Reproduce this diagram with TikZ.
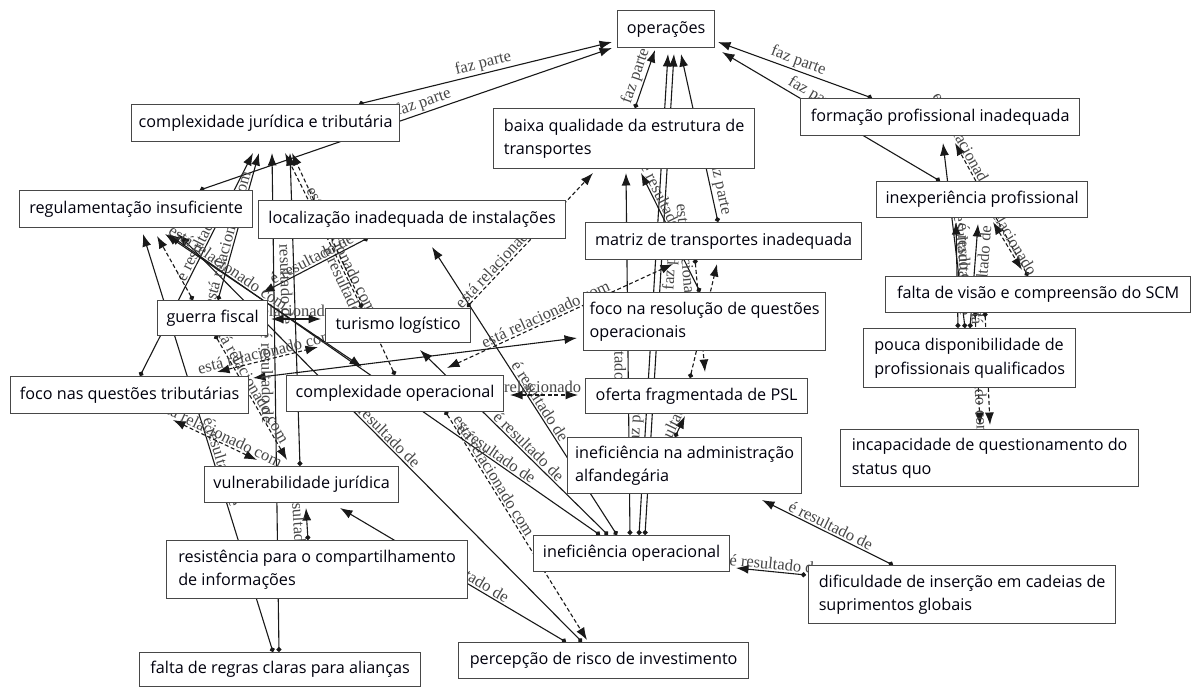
\documentclass[tikz,border=0pt]{standalone}
\usepackage{fontspec}
\newfontfamily\boxfont{Open Sans}
\newfontfamily\edgefont{Liberation Serif}
\usetikzlibrary{arrows.meta}
\pgfdeclarelayer{background}
\pgfsetlayers{background,main}

\begin{document}
\begin{tikzpicture}[x=1pt,y=-1pt,
  box/.style={draw=black!72, line width=1.3pt, fill=white, anchor=north west,
    inner xsep=6pt, inner ysep=0pt, align=left, text=black!95!blue,
    font=\boxfont\fontsize{16.2}{23.5}\selectfont},
  con/.style={line width=1.1pt, draw=black!90},
  res/.style={con, {Circle[length=5pt]}-{Latex[length=12.5pt,width=9pt]}},
  resd/.style={res, dash pattern=on 4pt off 2.5pt},
  mutual/.style={con, {Latex[length=12.5pt,width=9pt]}-{Latex[length=12.5pt,width=9pt]}},
  mutuald/.style={mutual, dash pattern=on 4pt off 2.5pt},
  lbl/.style={font=\edgefont\fontsize{16.5}{16.5}\selectfont, text=black!72, sloped, inner sep=1.5pt}
]
\useasboundingbox (0,0) rectangle (1192,686);

% concept boxes
\node[box, minimum width=97pt,  minimum height=37pt] (ops)      at (617,10)  {operações};
\node[box, minimum width=268pt, minimum height=37pt] (cjt)      at (131,104) {complexidade jurídica e tributária};
\node[box, minimum width=261pt, minimum height=60pt] (baixa)    at (493,108) {baixa qualidade da estrutura de\\transportes};
\node[box, minimum width=279pt, minimum height=37pt] (form)     at (800,98)  {formação profissional inadequada};
\node[box, minimum width=233pt, minimum height=37pt] (reg)      at (19,190)  {regulamentação insuficiente};
\node[box, minimum width=307pt, minimum height=38pt] (loc)      at (258,200) {localização inadequada de instalações};
\node[box, minimum width=276pt, minimum height=37pt] (matriz)   at (585,222) {matriz de transportes inadequada};
\node[box, minimum width=211pt, minimum height=36pt] (inexp)    at (876,181) {inexperiência profissional};
\node[box, minimum width=305pt, minimum height=36pt] (visao)    at (885,276) {falta de visão e compreensão do SCM};
\node[box, minimum width=223pt, minimum height=58pt] (focores)  at (583,292) {foco na resolução de questões\\operacionais};
\node[box, minimum width=110pt, minimum height=35pt] (guerra)   at (157,300) {guerra fiscal};
\node[box, minimum width=145pt, minimum height=34pt] (turismo)  at (325,308) {turismo logístico};
\node[box, minimum width=212pt, minimum height=59pt] (pouca)    at (863,328) {pouca disponibilidade de\\profissionais qualificados};
\node[box, minimum width=238pt, minimum height=37pt] (focotrib) at (10,376)  {foco nas questões tributárias};
\node[box, minimum width=217pt, minimum height=36pt] (compop)   at (286,375) {complexidade operacional};
\node[box, minimum width=222pt, minimum height=35pt] (oferta)   at (585,378) {oferta fragmentada de PSL};
\node[box, minimum width=298pt, minimum height=57pt] (incap)    at (840,429) {incapacidade de questionamento do\\status quo};
\node[box, minimum width=234pt, minimum height=56pt] (admin)    at (567,437) {ineficiência na administração\\alfandegária};
\node[box, minimum width=194pt, minimum height=36pt] (vuln)     at (204,466) {vulnerabilidade jurídica};
\node[box, minimum width=301pt, minimum height=58pt] (resist)   at (166,540) {resistência para o compartilhamento\\de informações};
\node[box, minimum width=196pt, minimum height=36pt] (io)       at (533,535) {ineficiência operacional};
\node[box, minimum width=307pt, minimum height=58pt] (dific)    at (808,565) {dificuldade de inserção em cadeias de\\suprimentos globais};
\node[box, minimum width=281pt, minimum height=34pt] (falta)    at (139,652) {falta de regras claras para alianças};
\node[box, minimum width=290pt, minimum height=36pt] (percep)   at (458,642) {percepção de risco de investimento};

\begin{pgfonlayer}{background}
\fill[white] (0,0) rectangle (1192,686);

% links into "operações"
\draw[res] ([shift={(228,0)}]cjt.north west) -- node[lbl,above]{faz parte} ([shift={(-5,32)}]ops.north west);
\draw[res] ([shift={(181,0)}]reg.north west) -- node[lbl,above,pos=.55]{faz parte} ([shift={(-5,38)}]ops.north west);
\draw[res] ([shift={(142,0)}]baixa.north west) -- node[lbl,above]{faz parte} ([shift={(38,40)}]ops.north west);
\draw[res] ([shift={(72,0)}]form.north west) -- node[lbl,above]{faz parte} ([shift={(101,32)}]ops.north west);
\draw[res] ([shift={(64,0)}]inexp.north west) -- node[lbl,above,pos=.6]{faz parte} ([shift={(105,42)}]ops.north west);
\draw[res] ([shift={(133,0)}]matriz.north west) -- node[lbl,above,pos=.2]{faz parte} ([shift={(64,44)}]ops.north west);
\draw[res] ([shift={(106,0)}]io.north west) -- node[lbl,above,pos=.24]{faz parte} ([shift={(51,44)}]ops.north west);
\draw[res] ([shift={(112,0)}]io.north west) -- node[lbl,below,pos=.57]{faz parte} ([shift={(57,44)}]ops.north west);

% central column
\draw[res] ([shift={(97,0)}]io.north west) -- node[lbl,below,pos=.5]{é resultado de} ([shift={(133,65)}]baixa.north west);
\draw[res] ([shift={(117,0)}]focores.north west) -- node[lbl,above,pos=.7]{é resultado de} ([shift={(148,65)}]baixa.north west);
\draw[res] ([shift={(84,0)}]io.north west) -- node[lbl,above,pos=.45]{é resultado de} ([shift={(174,47)}]loc.north west);
\draw[res] ([shift={(75,0)}]io.north west) -- node[lbl,above,pos=.45]{é resultado de} ([shift={(95,42)}]turismo.north west);
\draw[res] ([shift={(67,0)}]io.north west) -- node[lbl,above,pos=.25]{é resultado de} ([shift={(149,44)}]reg.north west);
\draw[res] ([shift={(124,0)}]percep.north west) -- node[lbl,above,pos=.5]{é resultado de} ([shift={(159,44)}]reg.north west);
\draw[res] ([shift={(108,0)}]percep.north west) -- node[lbl,above,pos=.45]{é resultado de} ([shift={(136,42)}]vuln.north west);
\draw[resd] ([shift={(159,36)}]compop.north west) -- node[lbl,above,pos=.3]{está relacionado com} ([shift={(129,-2)}]percep.north west);
\draw[mutuald] ([shift={(224,20)}]compop.north west) -- node[lbl,above]{está relacionado com} ([shift={(-7,17)}]oferta.north west);
\draw[mutuald] ([shift={(161,-7)}]compop.north west) -- node[lbl,above,pos=.45]{está relacionado com} ([shift={(88,42)}]matriz.north west);
\draw[mutual] ([shift={(243,2)}]focotrib.north west) -- ([shift={(-6,46)}]focores.north west);
\draw[resd] ([shift={(142,-1)}]turismo.north west) -- node[lbl,above,pos=.35]{está relacionado com} ([shift={(100,65)}]baixa.north west);
\draw[resd] ([shift={(110,37)}]matriz.north west) -- node[lbl,below,pos=.12]{está relacionado com} ([shift={(120,-6)}]oferta.north west);
\draw[resd] ([shift={(105,0)}]oferta.north west) -- ([shift={(132,42)}]matriz.north west);
\draw[res] ([shift={(108,0)}]admin.north west) -- node[lbl,above]{é resultado de} ([shift={(100,38)}]oferta.north west);

% left cluster
\draw[res] ([shift={(110,38)}]loc.north west) -- node[lbl,above]{é resultado de} ([shift={(105,-7)}]guerra.north west);
\draw[res] ([shift={(130,0)}]focotrib.north west) -- node[lbl,above,pos=.6]{é resultado de} ([shift={(122,49)}]cjt.north west);
\draw[res] ([shift={(61,0)}]guerra.north west) -- node[lbl,above,pos=.4]{está relacionado com} ([shift={(128,49)}]cjt.north west);
\draw[res] ([shift={(134,0)}]falta.north west) -- node[lbl,above,pos=.45]{é resultado de} ([shift={(124,44)}]reg.north west);
\draw[res] ([shift={(140,0)}]falta.north west) -- node[lbl,below,pos=.55]{é resultado de} ([shift={(141,49)}]cjt.north west);
\draw[res] ([shift={(96,0)}]vuln.north west) -- node[lbl,below,pos=.6]{é resultado de} ([shift={(159,49)}]cjt.north west);
\draw[res] ([shift={(142,0)}]resist.north west) -- node[lbl,below]{é resultado de} ([shift={(102,42)}]vuln.north west);
\draw[mutuald] ([shift={(163,44)}]focotrib.north west) -- node[lbl,above]{está relacionado com} ([shift={(53,-6)}]vuln.north west);
\draw[resd] ([shift={(58,35)}]guerra.north west) -- node[lbl,above,pos=.4]{está relacionado com} ([shift={(83,-6)}]vuln.north west);
\draw[mutuald] ([shift={(207,-4)}]focotrib.north west) -- node[lbl,above]{está relacionado com} ([shift={(-7,39)}]turismo.north west);
\draw[mutual] ([shift={(114,19)}]guerra.north west) -- node[lbl,above]{está relacionado com} ([shift={(-4,11)}]turismo.north west);
\draw[mutual] ([shift={(76,-8)}]compop.north west) -- node[lbl,above,pos=.7]{está relacionado com} ([shift={(146,44)}]reg.north west);
\draw[resd] ([shift={(37,0)}]turismo.north west) -- node[lbl,above,pos=.35]{está relacionado com} ([shift={(154,49)}]cjt.north west);
\draw[resd] ([shift={(109,0)}]compop.north west) -- node[lbl,below,pos=.4]{é resultado de} ([shift={(161,49)}]cjt.north west);
\draw[resd] ([shift={(36,0)}]guerra.north west) -- ([shift={(138,46)}]reg.north west);

% lower right
\draw[res] ([shift={(85,0)}]dific.north west) -- node[lbl,above]{é resultado de} ([shift={(195,63)}]admin.north west);
\draw[res] ([shift={(-2,10)}]dific.north west) -- node[lbl,above,pos=.45]{é resultado de} ([shift={(203,33)}]io.north west);

% right cluster
\draw[res] ([shift={(102,0)}]pouca.north west) -- node[lbl,above,pos=.45]{é resultado de} ([shift={(143,45)}]form.north west);
\draw[res] ([shift={(107,0)}]pouca.north west) -- node[lbl,below,pos=.55]{é resultado de} ([shift={(102,43)}]inexp.north west);
\draw[res] ([shift={(95,0)}]pouca.north west) -- node[lbl,above,pos=.55]{é resultado de} ([shift={(80,41)}]inexp.north west);
\draw[resd] ([shift={(143,0)}]visao.north west) -- node[lbl,above,pos=.88]{está relacionado com} ([shift={(155,45)}]form.north west);
\draw[mutuald] ([shift={(117,41)}]inexp.north west) -- node[lbl,above]{está relacionado com} ([shift={(137,-6)}]visao.north west);
\draw[resd] ([shift={(90,36)}]visao.north west) -- ([shift={(140,-4)}]incap.north west);
\draw[resd] ([shift={(100,36)}]visao.north west) -- node[lbl,below]{está relacionado com} ([shift={(150,-4)}]incap.north west);
\end{pgfonlayer}
\end{tikzpicture}
\end{document}
